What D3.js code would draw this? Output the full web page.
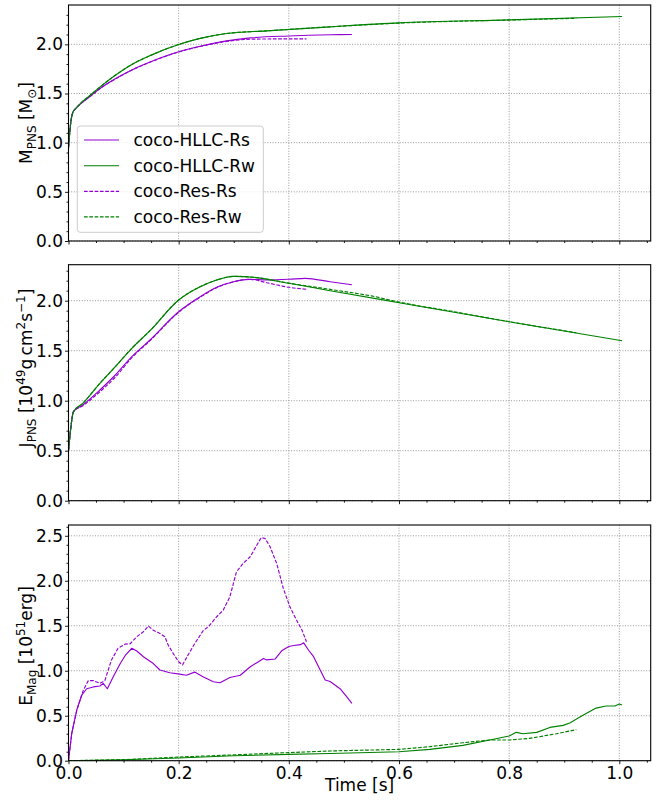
<!DOCTYPE html>
<html>
<head>
<meta charset="utf-8">
<script src="https://cdn.jsdelivr.net/npm/d3@7"></script>
<style>
  html, body { margin: 0; padding: 0; background: #fff; }
  svg text { font-family: "DejaVu Sans", sans-serif; }
</style>
</head>
<body>
<svg id="chart" width="662" height="805"></svg>
<script>
// Time axis ticks (seconds)
const timeTicks = [0.0, 0.2, 0.4, 0.6, 0.8, 1.0];
const massTicks = [0.0, 0.5, 1.0, 1.5, 2.0];
const angTicks = [0.0, 0.5, 1.0, 1.5, 2.0];
const magTicks = [0.0, 0.5, 1.0, 1.5, 2.0, 2.5];

const seriesNames = ["coco-HLLC-Rs", "coco-HLLC-Rw", "coco-Res-Rs", "coco-Res-Rw"];

// PNS baryonic mass [M_sun] : [time, value]
const massHllcRs = [[0,0.95],[0.004,1.20],[0.008,1.31],[0.012,1.34],[0.02,1.385],[0.039,1.47],[0.057,1.55],[0.085,1.65],[0.115,1.74],[0.148,1.82],[0.2,1.924],[0.239,1.98],[0.287,2.035],[0.33,2.065],[0.4,2.085],[0.475,2.097],[0.5145,2.10]];
const massHllcRw = [[0,0.95],[0.004,1.20],[0.008,1.31],[0.012,1.34],[0.02,1.39],[0.039,1.48],[0.057,1.565],[0.085,1.685],[0.115,1.795],[0.148,1.885],[0.2,1.998],[0.239,2.06],[0.287,2.11],[0.36,2.137],[0.475,2.178],[0.6,2.218],[0.8,2.249],[1.005,2.283]];
const massResRs = [[0,0.95],[0.004,1.20],[0.008,1.31],[0.012,1.34],[0.02,1.385],[0.039,1.468],[0.057,1.548],[0.085,1.648],[0.115,1.738],[0.148,1.818],[0.2,1.922],[0.239,1.978],[0.287,2.03],[0.33,2.052],[0.38,2.055],[0.432,2.055]];
const massResRw = [[0,0.95],[0.004,1.20],[0.008,1.31],[0.012,1.34],[0.02,1.39],[0.039,1.48],[0.057,1.565],[0.085,1.685],[0.115,1.795],[0.148,1.885],[0.2,1.998],[0.239,2.06],[0.287,2.11],[0.36,2.137],[0.475,2.178],[0.6,2.216],[0.8,2.247],[0.922,2.265]];

// PNS angular momentum [1e49 g cm^2 s^-1]
const angHllcRs = [[0,0.5],[0.004,0.72],[0.009,0.89],[0.026,0.957],[0.057,1.107],[0.085,1.257],[0.115,1.44],[0.148,1.607],[0.2,1.89],[0.239,2.04],[0.269,2.134],[0.3,2.19],[0.328,2.214],[0.36,2.207],[0.4,2.214],[0.43,2.224],[0.475,2.19],[0.5145,2.16]];
const angHllcRw = [[0,0.5],[0.004,0.72],[0.009,0.89],[0.026,0.974],[0.057,1.174],[0.085,1.34],[0.115,1.524],[0.148,1.70],[0.2,2.007],[0.239,2.14],[0.269,2.207],[0.3,2.244],[0.336,2.234],[0.4,2.174],[0.475,2.10],[0.6,1.98],[0.8,1.79],[1.005,1.60]];
const angResRs = [[0,0.5],[0.004,0.72],[0.009,0.89],[0.026,0.95],[0.057,1.09],[0.085,1.235],[0.115,1.43],[0.148,1.60],[0.2,1.885],[0.239,2.035],[0.269,2.13],[0.3,2.19],[0.328,2.214],[0.36,2.18],[0.4,2.134],[0.432,2.114]];
const angResRw = [[0,0.5],[0.004,0.72],[0.009,0.89],[0.026,0.974],[0.057,1.174],[0.085,1.34],[0.115,1.524],[0.148,1.70],[0.2,2.007],[0.239,2.14],[0.269,2.207],[0.3,2.244],[0.336,2.234],[0.4,2.176],[0.5,2.092],[0.55,2.048],[0.6,1.986],[0.7,1.89],[0.8,1.79],[0.922,1.68]];

// Magnetic energy [1e51 erg]
const magHllcRs = [[0,0],[0.0058,0.30],[0.015,0.563],[0.024,0.73],[0.033,0.80],[0.045,0.82],[0.057,0.83],[0.063,0.86],[0.0705,0.80],[0.081,0.93],[0.094,1.08],[0.103,1.17],[0.115,1.25],[0.124,1.22],[0.136,1.156],[0.154,1.08],[0.166,1.008],[0.184,0.978],[0.202,0.963],[0.214,0.95],[0.229,0.985],[0.245,0.93],[0.263,0.878],[0.275,0.866],[0.293,0.925],[0.312,0.95],[0.33,1.045],[0.342,1.09],[0.354,1.137],[0.36,1.12],[0.375,1.13],[0.387,1.222],[0.4,1.27],[0.409,1.28],[0.421,1.29],[0.427,1.31],[0.436,1.228],[0.445,1.156],[0.454,1.045],[0.466,0.897],[0.475,0.88],[0.493,0.80],[0.505,0.711],[0.5145,0.638]];
const magHllcRw = [[0,0],[0.05,0.003],[0.1,0.01],[0.2,0.03],[0.3,0.055],[0.4,0.07],[0.475,0.08],[0.6,0.10],[0.656,0.126],[0.716,0.17],[0.765,0.23],[0.8,0.274],[0.813,0.315],[0.825,0.30],[0.85,0.315],[0.874,0.37],[0.898,0.393],[0.91,0.42],[0.934,0.504],[0.958,0.585],[0.976,0.608],[0.992,0.608],[1.0,0.63],[1.005,0.62]];
const magResRs = [[0,0],[0.0058,0.30],[0.015,0.56],[0.027,0.785],[0.036,0.89],[0.045,0.89],[0.057,0.86],[0.066,0.89],[0.078,1.12],[0.09,1.25],[0.103,1.296],[0.112,1.30],[0.124,1.378],[0.136,1.434],[0.145,1.497],[0.154,1.45],[0.166,1.415],[0.175,1.378],[0.181,1.285],[0.19,1.193],[0.2,1.10],[0.207,1.064],[0.217,1.175],[0.229,1.30],[0.245,1.45],[0.254,1.49],[0.269,1.60],[0.281,1.674],[0.293,1.822],[0.305,2.10],[0.317,2.193],[0.33,2.267],[0.342,2.397],[0.35,2.48],[0.357,2.47],[0.366,2.378],[0.378,2.193],[0.39,1.915],[0.402,1.71],[0.414,1.563],[0.424,1.45],[0.432,1.322]];
const magResRw = [[0,0],[0.1,0.012],[0.2,0.04],[0.3,0.065],[0.4,0.09],[0.475,0.108],[0.6,0.126],[0.656,0.156],[0.716,0.2],[0.765,0.23],[0.8,0.23],[0.837,0.248],[0.886,0.30],[0.922,0.345]];

const purple = "#9400d3";
const green = "#008000";
const styles = [
  { color: purple, dash: null },
  { color: green, dash: null },
  { color: purple, dash: "3.7,1.6" },
  { color: green, dash: "3.7,1.6" }
];

const svg = d3.select("#chart");
const plotLeft = 68.5, plotRight = 650.7;
const x = d3.scaleLinear().domain([0, 1.057]).range([plotLeft, plotRight]);

const panels = [
  { top: 5, bottom: 241, ymax: 2.4, ticks: massTicks, series: [massHllcRs, massHllcRw, massResRs, massResRw], smooth: true,
    label: [["M"], ["PNS", "sub"], [" [M"], ["\u2299", "sub"], ["]"]], labelY: 123, xLabels: false, legend: true },
  { top: 264.7, bottom: 500.7, ymax: 2.36, ticks: angTicks, series: [angHllcRs, angHllcRw, angResRs, angResRw], smooth: true,
    label: [["J"], ["PNS", "sub"], [" [10"], ["49", "sup"], ["g\u2009cm"], ["2", "sup"], ["s"], ["\u22121", "sup"], ["]"]], labelY: 368, xLabels: false },
  { top: 525, bottom: 760.7, ymax: 2.62, ticks: magTicks, series: [magHllcRs, magHllcRw, magResRs, magResRw], smooth: false,
    label: [["E"], ["Mag", "sub"], [" [10"], ["51", "sup"], ["erg]"]], labelY: 646, xLabels: true }
];

const minorX = d3.range(0, 1.0501, 0.05);

panels.forEach((p, i) => {
  const y = d3.scaleLinear().domain([0, p.ymax]).range([p.bottom, p.top]);
  const g = svg.append("g");

  // grid
  const grid = g.append("g").attr("stroke", "#8c8c8c").attr("stroke-width", 0.9).attr("stroke-dasharray", "1,1.65");
  grid.selectAll(".gx").data(timeTicks).join("line")
    .attr("x1", d => x(d)).attr("x2", d => x(d)).attr("y1", p.top).attr("y2", p.bottom);
  grid.selectAll(".gy").data(p.ticks).join("line")
    .attr("x1", plotLeft).attr("x2", plotRight).attr("y1", d => y(d)).attr("y2", d => y(d));

  // clip
  const clipId = "clip" + i;
  svg.append("clipPath").attr("id", clipId).append("rect")
    .attr("x", plotLeft).attr("y", p.top).attr("width", plotRight - plotLeft).attr("height", p.bottom - p.top);

  const line = d3.line().x(d => x(d[0])).y(d => y(d[1]))
    .curve(p.smooth ? d3.curveMonotoneX : d3.curveLinear);
  const lines = g.append("g").attr("clip-path", `url(#${clipId})`);
  p.series.forEach((s, k) => {
    lines.append("path").datum(s).attr("d", line)
      .attr("fill", "none").attr("stroke", styles[k].color).attr("stroke-width", 1.15)
      .attr("stroke-dasharray", styles[k].dash).attr("stroke-linejoin", "round");
  });

  // axes
  const xAxis = d3.axisBottom(x).tickValues(timeTicks).tickSize(3.5).tickPadding(2.5)
    .tickFormat(p.xLabels ? d3.format(".1f") : () => "");
  const xg = g.append("g").attr("transform", `translate(0,${p.bottom})`).call(xAxis);
  const xMinor = d3.axisBottom(x).tickValues(minorX.filter(v => !timeTicks.some(t => Math.abs(t - v) < 1e-6))).tickSize(2).tickFormat(() => "");
  const xmg = g.append("g").attr("transform", `translate(0,${p.bottom})`).call(xMinor);

  const yAxis = d3.axisLeft(y).tickValues(p.ticks).tickSize(3.5).tickPadding(2).tickFormat(d3.format(".1f"));
  const yg = g.append("g").attr("transform", `translate(${plotLeft},0)`).call(yAxis);
  const minorY = d3.range(0, p.ymax, 0.1).filter(v => !p.ticks.some(t => Math.abs(t - v) < 1e-6));
  const ymg = g.append("g").attr("transform", `translate(${plotLeft},0)`)
    .call(d3.axisLeft(y).tickValues(minorY).tickSize(2).tickFormat(() => ""));

  [xg, xmg, yg, ymg].forEach(a => {
    a.select(".domain").remove();
    a.selectAll("line").attr("stroke", "#000").attr("stroke-width", 0.9);
    a.selectAll("text").attr("font-size", 17).attr("fill", "#000")
      .style("font-family", "'DejaVu Sans', sans-serif");
  });

  // frame
  g.append("rect").attr("x", plotLeft).attr("y", p.top)
    .attr("width", plotRight - plotLeft).attr("height", p.bottom - p.top)
    .attr("fill", "none").attr("stroke", "#000").attr("stroke-width", 1.1);

  // y label
  const lab = g.append("text").attr("transform", `translate(32,${p.labelY}) rotate(-90)`)
    .attr("text-anchor", "middle").attr("font-size", 17).attr("fill", "#000");
  let shift = 0;
  p.label.forEach(([t, kind]) => {
    let target = 0, fs = 17;
    if (kind === "sub") { target = 3.5; fs = 12; }
    if (kind === "sup") { target = -7; fs = 12; }
    lab.append("tspan").attr("dy", target - shift).attr("font-size", fs).text(t);
    shift = target;
  });

  // legend
  if (p.legend) {
    const lg = g.append("g");
    lg.append("rect").attr("x", 77.3).attr("y", 126).attr("width", 186).attr("height", 106.3)
      .attr("rx", 3).attr("fill", "#fff").attr("fill-opacity", 0.8)
      .attr("stroke", "#cccccc").attr("stroke-width", 1);
    const rows = [140, 165.7, 191.4, 216.8];
    seriesNames.forEach((name, k) => {
      lg.append("line").attr("x1", 84).attr("x2", 119).attr("y1", rows[k]).attr("y2", rows[k])
        .attr("stroke", styles[k].color).attr("stroke-width", 1.15).attr("stroke-dasharray", styles[k].dash);
      lg.append("text").attr("x", 133.5).attr("y", rows[k] + 6).attr("font-size", 17).attr("fill", "#000").text(name);
    });
  }
});

svg.append("text").attr("x", (plotLeft + plotRight) / 2).attr("y", 791)
  .attr("text-anchor", "middle").attr("font-size", 17).attr("fill", "#000").text("Time [s]");
</script>
</body>
</html>
